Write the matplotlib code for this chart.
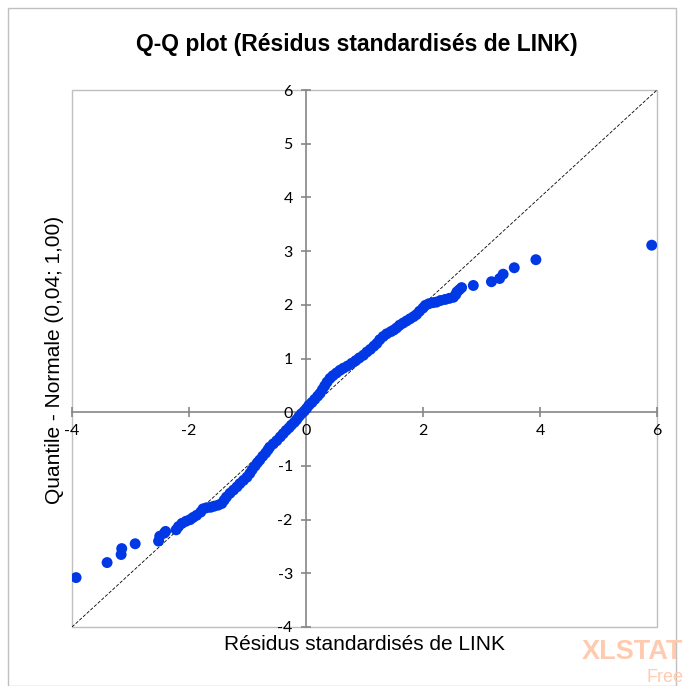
import matplotlib
matplotlib.use("Agg")
import matplotlib.pyplot as plt
from matplotlib.patches import Rectangle

plt.rcParams['axes.unicode_minus'] = False

# Standardized residuals (x) and normal quantiles (y)
resid = [-3.93, -3.40, -3.16, -3.15, -2.92, -2.52, -2.50, -2.42, -2.40, -2.22,
         -2.18, -2.12, -2.05, -1.98, -1.93, -1.87, -1.80, -1.76, -1.70, -1.63,
         -1.57, -1.50, -1.44, -1.40, -1.36, -1.30, -1.24, -1.18, -1.13, -1.07,
         -1.01, -0.96, -0.92, -0.87, -0.83, -0.79, -0.74, -0.69, -0.65, -0.62,
         -0.56, -0.50, -0.44, -0.39, -0.34, -0.29, -0.25, -0.20, -0.16, -0.12,
         -0.08, -0.03, 0.01, 0.05, 0.10, 0.15, 0.20, 0.24, 0.28, 0.32,
         0.36, 0.41, 0.46, 0.52, 0.58, 0.64, 0.71, 0.78, 0.85, 0.91,
         0.98, 1.04, 1.10, 1.16, 1.21, 1.26, 1.32, 1.38, 1.45, 1.50,
         1.55, 1.60, 1.66, 1.72, 1.78, 1.84, 1.89, 1.94, 2.00, 2.04,
         2.10, 2.17, 2.23, 2.30, 2.38, 2.45, 2.52, 2.56, 2.58, 2.62,
         2.66, 2.86, 3.17, 3.31, 3.37, 3.56, 3.93, 5.91]
quant = [-3.08, -2.80, -2.65, -2.54, -2.45, -2.40, -2.31, -2.25, -2.22, -2.19,
         -2.13, -2.07, -2.03, -2.00, -1.96, -1.92, -1.86, -1.80, -1.78, -1.77,
         -1.75, -1.73, -1.70, -1.64, -1.58, -1.51, -1.45, -1.39, -1.33, -1.27,
         -1.21, -1.14, -1.07, -1.00, -0.94, -0.89, -0.82, -0.76, -0.70, -0.65,
         -0.59, -0.53, -0.46, -0.40, -0.34, -0.29, -0.24, -0.19, -0.14, -0.08,
         -0.03, 0.02, 0.07, 0.13, 0.18, 0.24, 0.30, 0.35, 0.42, 0.49,
         0.56, 0.63, 0.68, 0.73, 0.78, 0.82, 0.86, 0.91, 0.96, 1.01,
         1.06, 1.12, 1.17, 1.23, 1.28, 1.35, 1.41, 1.46, 1.50, 1.53,
         1.57, 1.62, 1.66, 1.70, 1.74, 1.78, 1.82, 1.88, 1.94, 1.99,
         2.02, 2.04, 2.05, 2.08, 2.10, 2.12, 2.14, 2.19, 2.24, 2.28,
         2.32, 2.36, 2.43, 2.49, 2.57, 2.69, 2.84, 3.11]
ticks = [-4, -2, 0, 2, 4, 6]
yticks = [-4, -3, -2, -1, 0, 1, 2, 3, 4, 5, 6]
lims = [-4, 6]

title = "Q-Q plot (Résidus standardisés de LINK)"
xlabel = "Résidus standardisés de LINK"
ylabel = "Quantile - Normale (0,04; 1,00)"

W, H = 685, 686
fig = plt.figure(figsize=(W / 100, H / 100), dpi=100)

# outer frame
fig.patches.append(Rectangle((8 / W, 0), (676 - 8) / W, 1 - 8 / H,
                             transform=fig.transFigure, fill=False,
                             edgecolor='#BFBFBF', linewidth=1.0))

ax = fig.add_axes([72 / W, 1 - 627 / H, (657 - 72) / W, (627 - 90) / H])
ax.set_xlim(lims)
ax.set_ylim(lims)

for s in ['top', 'right']:
    ax.spines[s].set_visible(False)
for s in ['left', 'bottom']:
    ax.spines[s].set_position(('data', 0))
    ax.spines[s].set_color('#868686')
    ax.spines[s].set_linewidth(1.2)
    ax.spines[s].set_zorder(1)

ax.add_patch(Rectangle((0, 0), 1, 1, transform=ax.transAxes, fill=False,
                       edgecolor='#BFBFBF', linewidth=1.0, clip_on=False, zorder=0))

ax.plot(lims, lims, color='black', linestyle=(0, (4, 2)), linewidth=0.6, zorder=2)
ax.scatter(resid, quant, s=62, color='#0038E6', edgecolors='none', zorder=3)

ax.set_xticks(ticks)
ax.set_yticks(yticks)
ax.set_xticklabels([str(t) for t in ticks])
ax.set_yticklabels([str(t) for t in yticks])
ax.tick_params(axis='both', direction='inout', length=7, width=1.2, color='#868686',
               labelsize=11.5, labelcolor='black')
ax.tick_params(axis='x', pad=5)
ax.tick_params(axis='y', pad=6)
for lab in ax.get_xticklabels() + ax.get_yticklabels():
    lab.set_fontfamily('Lato')

fig.text(357 / W, 1 - 45 / H, title, ha='center', va='center',
         fontsize=16.5, fontweight='bold', family='Liberation Sans')
fig.text(364 / W, 1 - 645 / H, xlabel, ha='center', va='center',
         fontsize=15, family='Liberation Sans')
fig.text(55 / W, 1 - 360 / H, ylabel, ha='center', va='center', rotation=90,
         fontsize=15, family='Liberation Sans')

fig.text(683 / W, 1 - 652 / H, "XLSTAT", ha='right', va='center',
         fontsize=19.5, fontweight='bold', color='#FFCBB0', family='Liberation Sans')
fig.text(683 / W, 1 - 677 / H, "Free", ha='right', va='center',
         fontsize=13, color='#FFCBB0', family='Liberation Sans')

fig.savefig("out.png", dpi=100)
